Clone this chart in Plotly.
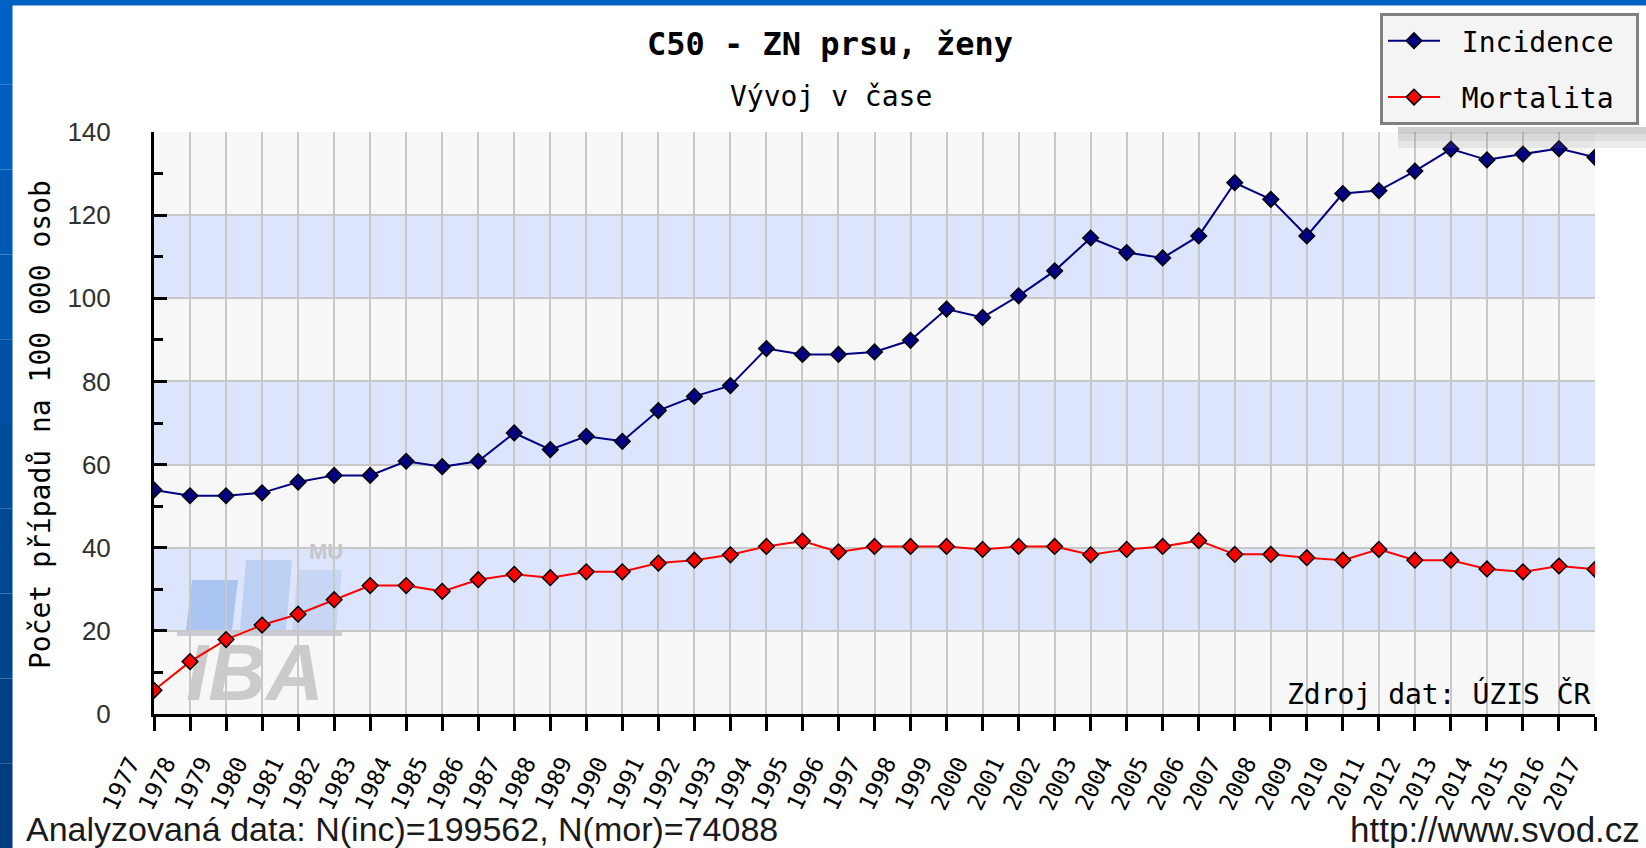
import plotly.graph_objects as go

years = list(range(1977, 2018))
year_labels = [str(y) for y in years]

incidence = [53.9, 52.5, 52.5, 53.2, 55.8, 57.4, 57.4, 60.8, 59.5, 60.8,
             67.6, 63.6, 66.8, 65.6, 73.0, 76.4, 79.0, 87.9, 86.5, 86.5,
             87.1, 89.9, 97.4, 95.4, 100.6, 106.6, 114.5, 111.0, 109.7, 115.0,
             127.8, 123.8, 115.0, 125.2, 125.9, 130.6, 135.9, 133.3, 134.7, 136.0,
             133.9]
mortalita = [5.7, 12.6, 17.9, 21.4, 24.0, 27.5, 30.9, 30.9, 29.5, 32.3,
             33.6, 32.8, 34.2, 34.2, 36.3, 37.0, 38.3, 40.3, 41.6, 39.0,
             40.3, 40.3, 40.3, 39.6, 40.3, 40.3, 38.3, 39.6, 40.3, 41.7,
             38.4, 38.4, 37.6, 37.0, 39.6, 37.0, 37.0, 34.9, 34.2, 35.6,
             34.8]
y_ticks = [0, 20, 40, 60, 80, 100, 120, 140]

W, H = 1646, 848
L, R, T, B = 154, 1595, 132, 714
YMAX = 140

def px(p):
    return (p - L) / (R - L)

def py(p):
    return (B - p) / (B - T)

def xd(p):
    return years[0] + (p - L) / (R - L) * (years[-1] - years[0])

def yd(p):
    return (B - p) / (B - T) * YMAX

MONO = "DejaVu Sans Mono"
SANS = "Liberation Sans"

fig = go.Figure()
fig.add_trace(go.Scatter(
    x=years, y=incidence, name=" Incidence ", mode="lines+markers",
    line=dict(color="#000080", width=2),
    marker=dict(symbol="diamond", size=12, color="#000080",
                line=dict(color="black", width=1.5)),
    legendgroup="a"))
fig.add_trace(go.Scatter(
    x=years, y=mortalita, name=" Mortalita ", mode="lines+markers",
    line=dict(color="#ff0000", width=2),
    marker=dict(symbol="diamond", size=12, color="#ff0000",
                line=dict(color="black", width=1.5)),
    legendgroup="b"))

shapes = []
# alternating bands
for lo in (20, 60, 100):
    shapes.append(dict(type="rect", xref="x", yref="y", x0=years[0], x1=years[-1],
                       y0=lo, y1=lo + 20, fillcolor="#dde5fc", line=dict(width=0),
                       layer="below"))

# watermark bars
def para(x0, x1, ytop, ybot, slant, color):
    p = (f"M {xd(x0)},{yd(ybot)} L {xd(x1)},{yd(ybot)} "
         f"L {xd(x1 + slant)},{yd(ytop)} L {xd(x0 + slant)},{yd(ytop)} Z")
    return dict(type="path", xref="x", yref="y", path=p, fillcolor=color,
                line=dict(width=0), layer="below")

shapes.append(para(186, 232, 580, 630, 6, "rgba(160,190,238,0.85)"))
shapes.append(para(240, 286, 560, 630, 6, "rgba(176,200,240,0.75)"))
shapes.append(para(292, 336, 570, 630, 6, "rgba(190,208,242,0.7)"))
shapes.append(dict(type="rect", xref="x", yref="y", x0=xd(177), x1=xd(342),
                   y0=yd(636), y1=yd(630), fillcolor="rgba(190,194,204,0.8)",
                   line=dict(width=0), layer="below"))
shapes.append(dict(type="rect", xref="x", yref="y", x0=xd(176), x1=xd(334),
                   y0=yd(694), y1=yd(634), fillcolor="rgba(0,0,0,0)",
                   line=dict(width=0), layer="below",
                   label=dict(text="IBA", textposition="middle center",
                              font=dict(family=SANS, size=80, color="#cbcbcb",
                                        weight="bold", style="italic"))))
shapes.append(dict(type="rect", xref="x", yref="y", x0=xd(300), x1=xd(352),
                   y0=yd(562), y1=yd(536), fillcolor="rgba(0,0,0,0)",
                   line=dict(width=0), layer="below",
                   label=dict(text="MU", textposition="middle center",
                              font=dict(family=SANS, size=22, color="#c4c6cc",
                                        weight="bold"))))

# blue slide background strips (left + top), gradient approximated
n = 10
for i in range(n):
    t = i / (n - 1)
    g = int(98 - 38 * t)
    b = int(196 - 70 * t)
    shapes.append(dict(type="rect", xref="paper", yref="paper",
                       x0=px(0), x1=px(12.5), y0=py(H * i / n), y1=py(H * (i + 1) / n),
                       fillcolor=f"rgb(0,{g},{b})", line=dict(width=0), layer="above"))
shapes.append(dict(type="rect", xref="paper", yref="paper",
                   x0=px(0), x1=px(W), y0=py(5.5), y1=py(0),
                   fillcolor="rgb(0,98,196)", line=dict(width=0), layer="above"))
# legend shadow
for k, a in enumerate((0.42, 0.28, 0.16)):
    shapes.append(dict(type="rect", xref="paper", yref="paper",
                       x0=px(1398), x1=px(W), y0=py(127 + 7 * (k + 1)), y1=py(127 + 7 * k),
                       fillcolor=f"rgba(140,140,140,{a})", line=dict(width=0), layer="above"))

annotations = [
    dict(text="Vývoj v čase", x=px(831), y=py(96), xref="paper", yref="paper",
         xanchor="center", yanchor="middle", showarrow=False,
         font=dict(family=MONO, size=28, color="black")),
    dict(text="Počet případů na 100 000 osob", x=px(40), y=py(425),
         xref="paper", yref="paper", xanchor="center", yanchor="middle",
         textangle=-90, showarrow=False, font=dict(family=MONO, size=28, color="black")),
    dict(text="Zdroj dat: ÚZIS ČR", x=px(1593), y=py(694), xref="paper", yref="paper",
         xanchor="right", yanchor="middle", showarrow=False,
         font=dict(family=MONO, size=28, color="black")),
    dict(text="Analyzovaná data: N(inc)=199562, N(mor)=74088", x=px(24), y=py(829),
         xref="paper", yref="paper", xanchor="left", yanchor="middle", showarrow=False,
         font=dict(family=SANS, size=34, color="#1a1a1a")),
    dict(text="http://www.svod.cz", x=px(1642), y=py(829), xref="paper", yref="paper",
         xanchor="right", yanchor="middle", showarrow=False,
         font=dict(family=SANS, size=35, color="#1a1a1a")),
]

fig.update_layout(
    width=W, height=H,
    margin=dict(l=L, r=W - R, t=T, b=H - B, autoexpand=False),
    paper_bgcolor="white", plot_bgcolor="#f7f7f7",
    title=dict(text="<b>C50 - ZN prsu, ženy</b>", x=830 / W, y=1 - 44 / H,
               xref="container", yref="container", xanchor="center", yanchor="middle",
               font=dict(family=MONO, size=32, color="black")),
    showlegend=True,
    legend=dict(x=px(1380), y=py(13), xanchor="left", yanchor="top",
                bgcolor="#f4f4f4", bordercolor="#808080", borderwidth=3,
                font=dict(family=MONO, size=28, color="black"),
                itemwidth=52, tracegroupgap=17, traceorder="grouped",
                itemclick=False, itemdoubleclick=False),
    shapes=shapes,
    annotations=annotations,
    xaxis=dict(range=[years[0], years[-1]], tickmode="array", tickvals=years,
               ticktext=year_labels, tickangle=-64,
               tickfont=dict(family=MONO, size=23, color="black"),
               ticks="outside", ticklen=14, tickwidth=3, tickcolor="black",
               showline=True, linecolor="black", linewidth=3,
               showgrid=True, gridcolor="#c8c8c8", gridwidth=2, zeroline=False,
               ticklabelshift=-24, ticklabelstandoff=10, fixedrange=True),
    yaxis=dict(range=[0, YMAX], tickmode="array", tickvals=y_ticks,
               tickfont=dict(family=SANS, size=26, color="#303030"),
               ticks="inside", ticklen=13, tickwidth=3, tickcolor="black",
               minor=dict(dtick=10, tick0=0, ticks="inside", ticklen=9, tickwidth=3,
                          tickcolor="black", showgrid=False),
               showline=True, linecolor="black", linewidth=3,
               showgrid=True, gridcolor="#c8c8c8", gridwidth=2, zeroline=False,
               ticklabelstandoff=35, fixedrange=True),
)

fig.write_html("out.html", config={"displayModeBar": False},
               post_script="document.body.style.margin='0';document.body.style.overflow='hidden';")
